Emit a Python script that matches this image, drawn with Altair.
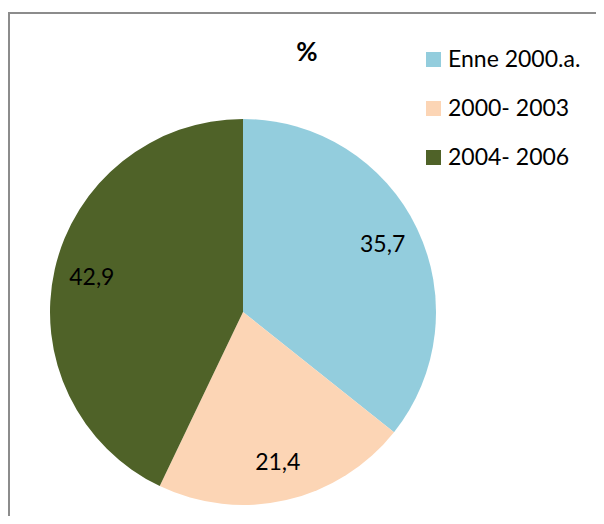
import altair as alt
import pandas as pd

categories = ["Enne 2000.a.", "2000- 2003", "2004- 2006"]
values = [35.7, 21.4, 42.9]
colors = ["#93CDDD", "#FCD5B5", "#4F6228"]

df = pd.DataFrame({
    "cat": categories,
    "val": values,
    "order": list(range(len(categories))),
    "label": [f"{v:.1f}".replace(".", ",") for v in values],
})

W, H = 588, 508
CX, CY, R = 235, 304, 193

base = alt.Chart(df).encode(
    theta=alt.Theta("val:Q", stack=True),
    order=alt.Order("order:Q"),
)

pie = base.mark_arc(outerRadius=R, stroke=None).encode(
    x=alt.value(CX),
    y=alt.value(CY),
    color=alt.Color(
        "cat:N",
        scale=alt.Scale(domain=categories, range=colors),
        sort=categories,
        legend=alt.Legend(
            title=None,
            orient="none",
            legendX=414,
            legendY=40,
            symbolType="square",
            symbolSize=225,
            symbolStrokeWidth=0,
            symbolOpacity=1,
            labelFont="Lato",
            labelFontSize=23,
            labelColor="#000000",
            labelOffset=3,
            rowPadding=25,
            labelLimit=300,
        ),
    ),
)

labels = base.mark_text(
    radius=155, font="Lato", fontSize=23, color="#000000", align="center", baseline="middle"
).encode(
    x=alt.value(CX),
    y=alt.value(CY),
    text="label:N",
)

frame_top = alt.Chart(df).mark_rule(color="#8c8c8c", strokeWidth=2).encode(
    x=alt.value(0), x2=alt.value(W), y=alt.value(5)
)
frame_left = alt.Chart(df).mark_rule(color="#8c8c8c", strokeWidth=2).encode(
    x=alt.value(1), y=alt.value(4), y2=alt.value(H)
)

chart = alt.layer(frame_top, frame_left, pie, labels).properties(
    width=W,
    height=H,
    padding=0,
    autosize=alt.AutoSizeParams(type="none"),
    title=alt.TitleParams(
        "%", font="Lato", fontSize=26, fontWeight="bold", color="#000000",
        anchor="middle", dx=5, dy=79, offset=0, baseline="alphabetic",
    ),
).configure_view(stroke=None)

chart.save("out.html", embed_options={"renderer": "svg", "actions": False})
